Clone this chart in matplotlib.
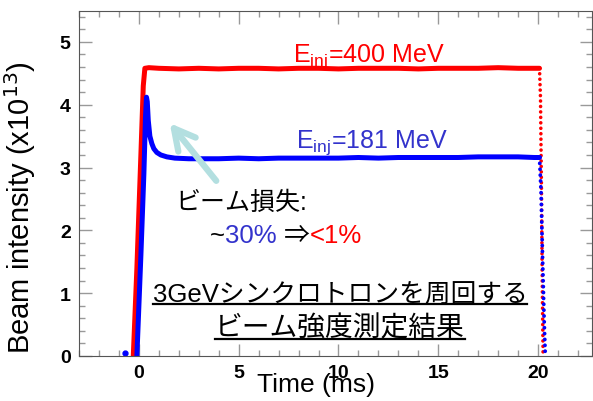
import matplotlib
matplotlib.use("Agg")
import matplotlib.pyplot as plt
from matplotlib.ticker import MultipleLocator
from matplotlib.lines import Line2D
from matplotlib.patches import FancyArrowPatch

plt.rcParams['font.family'] = ['Liberation Sans', 'Noto Sans CJK JP', 'DejaVu Sans']

# E_inj = 400 MeV (red)
red_t = [-0.28, -0.1, 0.1, 0.22, 0.3, 0.5, 1.0, 2.0, 3.0, 4.0, 5.0, 6.0, 7.0, 8.0, 9.0,
         10.0, 11.0, 12.0, 13.0, 14.0, 15.0, 16.0, 17.0, 18.0, 19.0, 19.8, 20.07]
red_v = [0.0, 1.4, 3.2, 4.3, 4.58, 4.59, 4.58, 4.57, 4.58, 4.57, 4.58, 4.58, 4.57, 4.58, 4.58,
         4.57, 4.58, 4.58, 4.58, 4.57, 4.58, 4.58, 4.58, 4.59, 4.58, 4.58, 4.58]
red_drop_t = [20.07, 20.12, 20.17, 20.21, 20.25]
red_drop_v = [4.58, 4.1, 2.6, 1.1, 0.0]

# E_inj = 181 MeV (blue)
blue_t = [-0.1, 0.1, 0.25, 0.33, 0.38, 0.42, 0.47, 0.55, 0.65, 0.75, 0.9, 1.1, 1.4, 1.8, 2.5,
          3.0, 4.0, 5.0, 6.0, 7.0, 8.0, 9.0, 10.0, 11.0, 12.0, 13.0, 14.0, 15.0, 16.0, 17.0,
          18.0, 19.0, 19.8, 20.07]
blue_v = [0.0, 1.6, 2.9, 3.8, 4.12, 4.05, 3.75, 3.5, 3.38, 3.3, 3.24, 3.2, 3.17, 3.15, 3.14,
          3.14, 3.14, 3.15, 3.14, 3.15, 3.15, 3.15, 3.15, 3.16, 3.15, 3.16, 3.16, 3.16, 3.16, 3.17,
          3.17, 3.17, 3.16, 3.16]
blue_drop_t = [20.07, 20.15, 20.22, 20.3, 20.36]
blue_drop_v = [3.16, 2.6, 1.6, 0.6, 0.0]
stray_t = [-0.7]
stray_v = [0.05]

W, H = 593, 402
fig = plt.figure(figsize=(W / 100, H / 100), dpi=100)
ax = fig.add_axes([79 / W, 1 - 357 / H, (592 - 79) / W, (357 - 11.5) / H])


def fpos(x, y):
    return x / W, 1 - y / H


ax.plot(red_t, red_v, color='#ff0000', lw=3.6, solid_joinstyle='round', solid_capstyle='round')
ax.plot(red_drop_t, red_drop_v, color='#ff0000', lw=2.6, ls=(0, (0.01, 1.5)),
        dash_capstyle='round')
ax.plot(blue_t, blue_v, color='#0000ff', lw=3.6, solid_joinstyle='round', solid_capstyle='round')
ax.plot(blue_drop_t, blue_drop_v, color='#0000ff', lw=2.8, ls=(0, (0.01, 1.5)),
        dash_capstyle='round')
ax.plot(stray_t, stray_v, 'o', color='#0000ff', ms=3.5, clip_on=False)

ax.set_xlim(-3.0, 22.7)
ax.set_ylim(0, 5.5)
ax.xaxis.set_major_locator(MultipleLocator(5))
ax.xaxis.set_minor_locator(MultipleLocator(1))
ax.yaxis.set_major_locator(MultipleLocator(1))
ax.yaxis.set_minor_locator(MultipleLocator(0.2))
ax.tick_params(which='both', direction='in', top=True, right=True, color='#999999', width=1)
ax.tick_params(which='major', length=9, pad=6, labelsize=14)
ax.tick_params(which='minor', length=4)
for lab in ax.get_xticklabels() + ax.get_yticklabels():
    lab.set_fontweight('bold')
for sp in ax.spines.values():
    sp.set_color('#555555')

fig.text(*fpos(20, 208), 'Beam intensity (x10$^{13}$)', rotation=90,
         ha='center', va='center', fontsize=21)
fig.text(*fpos(316, 392), 'Time (ms)', ha='center', va='baseline', fontsize=19)

fig.text(*fpos(293, 62), r'E$\mathregular{_{inj}}$=400 MeV', color='#ff0000',
         fontsize=18, va='baseline')
fig.text(*fpos(296, 148), r'E$\mathregular{_{inj}}$=181 MeV', color='#3333cc',
         fontsize=18, va='baseline')

fig.text(*fpos(175, 210), 'ビーム損失:', fontsize=18, va='baseline')

fig.canvas.draw()
r = fig.canvas.get_renderer()
x = 210
for s, c in [('~', 'black'), ('30%', '#3333cc'), (' ⇒', 'black'), ('<1%', '#ff0000')]:
    t = fig.text(*fpos(x, 243), s, color=c, fontsize=18.5, va='baseline')
    x += t.get_window_extent(r).width

t1 = fig.text(*fpos(340, 303), '3GeVシンクロトロンを周回する', fontsize=18.5,
              ha='center', va='baseline')
t2 = fig.text(*fpos(340, 336), 'ビーム強度測定結果', fontsize=20,
              ha='center', va='baseline')
for t, y in [(t1, 305), (t2, 340)]:
    bb = t.get_window_extent(r)
    fig.add_artist(Line2D([bb.x0 / W, bb.x1 / W], [1 - y / H, 1 - y / H],
                          color='black', lw=1.6, transform=fig.transFigure))

arrow = FancyArrowPatch(fpos(218, 184), fpos(168, 122), transform=fig.transFigure,
                        arrowstyle='->,head_length=0.75,head_width=0.4', mutation_scale=20,
                        color='#b3dfe0', lw=4.5, capstyle='round', joinstyle='round')
fig.add_artist(arrow)

fig.savefig('out.png', dpi=100)
